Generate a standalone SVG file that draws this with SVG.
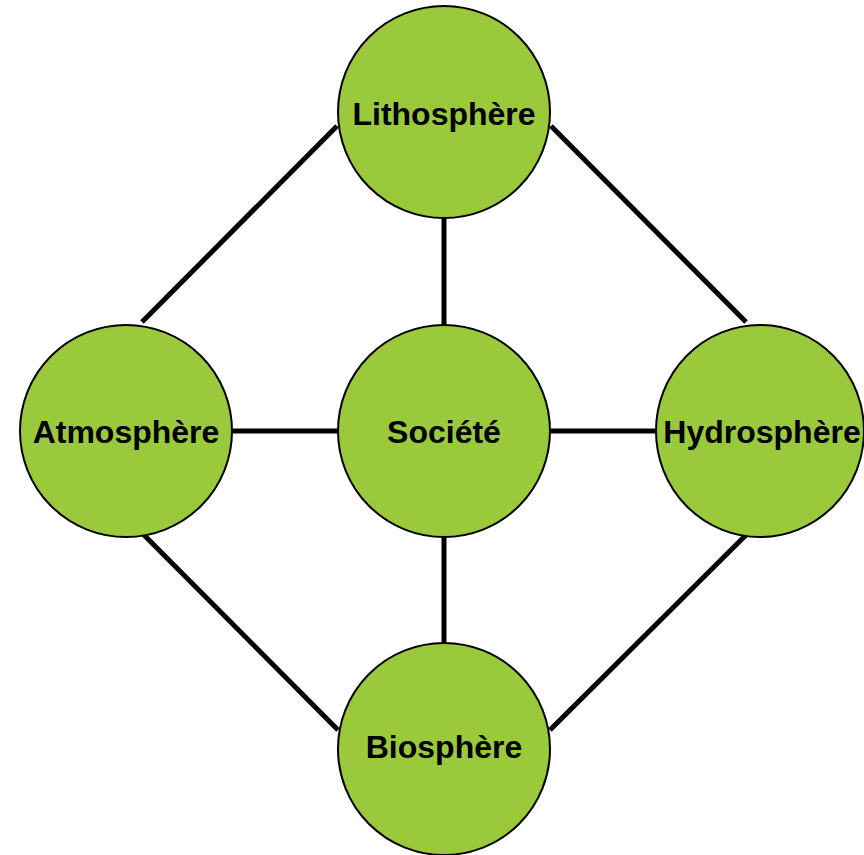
<svg xmlns="http://www.w3.org/2000/svg" width="864" height="855" viewBox="0 0 864 855">
<style>
.node circle,.node ellipse{fill:#9ACA3C;stroke:#000;stroke-width:2}
.node text{font-family:"Liberation Sans",Arial,sans-serif;font-weight:bold;font-size:32px;text-anchor:middle;fill:#000}
.conn line{stroke:#000;stroke-width:5}
</style>
<rect width="864" height="855" fill="#fff"/>
<g id="connectors" class="conn">
<line x1="444" y1="218" x2="444" y2="325"/>
<line x1="444" y1="537" x2="444" y2="643"/>
<line x1="232" y1="431" x2="338" y2="431"/>
<line x1="550" y1="431" x2="656" y2="431"/>
<line x1="337" y1="126" x2="142" y2="322"/>
<line x1="551" y1="126" x2="746" y2="322"/>
<line x1="143" y1="534" x2="338" y2="730"/>
<line x1="746" y1="535" x2="550" y2="730"/>
</g>
<g id="lithosphere" class="node"><circle cx="444" cy="112" r="106"/><text x="444" y="125">Lithosphère</text></g>
<g id="atmosphere" class="node"><circle cx="126" cy="431" r="106"/><text x="126" y="443">Atmosphère</text></g>
<g id="societe" class="node"><circle cx="444" cy="431" r="106"/><text x="444" y="443">Société</text></g>
<g id="hydrosphere" class="node"><ellipse cx="760" cy="431" rx="104" ry="106"/><text x="762" y="443">Hydrosphère</text></g>
<g id="biosphere" class="node"><circle cx="444" cy="749" r="106"/><text x="444" y="758">Biosphère</text></g>
</svg>
